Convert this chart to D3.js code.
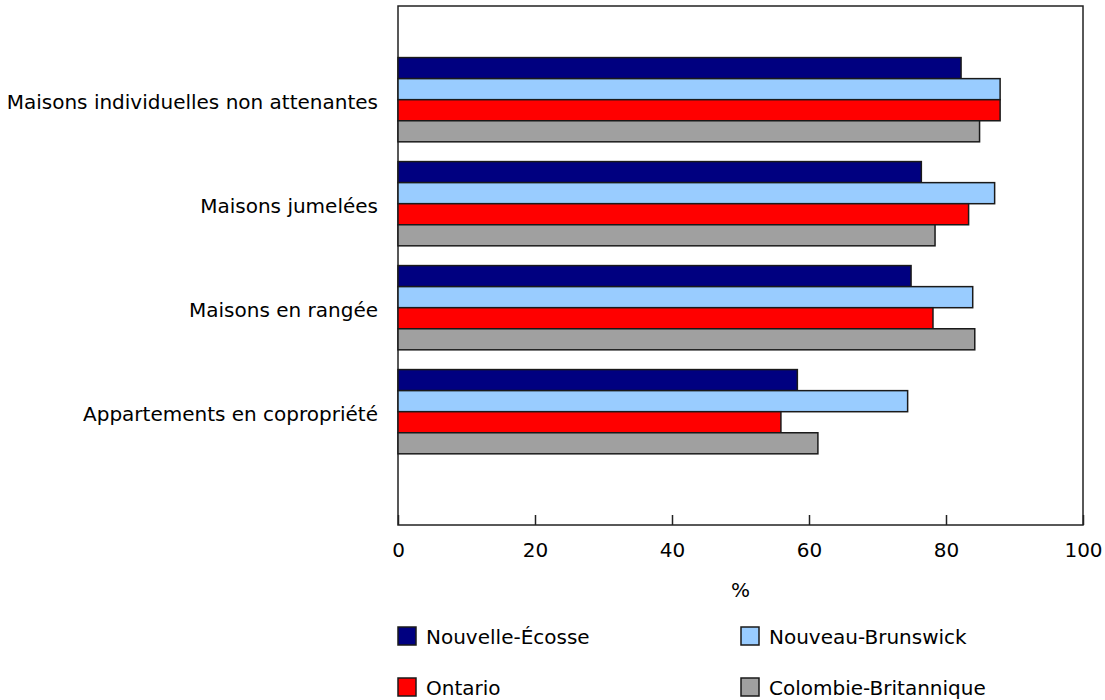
<!DOCTYPE html>
<html>
<head>
<meta charset="utf-8">
<script src="https://cdn.jsdelivr.net/npm/d3@7"></script>
<style>
body { margin: 0; background: #fff; }
text { font-family: "DejaVu Sans", Verdana, sans-serif; fill: #000; }
</style>
</head>
<body>
<svg id="chart" width="1105" height="700"></svg>
<script>
const categories = ["Maisons individuelles non attenantes", "Maisons jumelées", "Maisons en rangée", "Appartements en copropriété"];
const seriesNames = ["Nouvelle-Écosse", "Nouveau-Brunswick", "Ontario", "Colombie-Britannique"];
const seriesColors = ["#000080", "#99ccff", "#ff0000", "#a0a0a0"];
const novaScotia = [82.2, 76.4, 74.9, 58.3];
const newBrunswick = [87.9, 87.1, 83.9, 74.4];
const ontario = [87.9, 83.3, 78.1, 55.9];
const britishColumbia = [84.9, 78.4, 84.2, 61.3];
const xTicks = [0, 20, 40, 60, 80, 100];
const xTitle = "%";

const seriesValues = [novaScotia, newBrunswick, ontario, britishColumbia];

const svg = d3.select("#chart");
const mLeft = 398, mRight = 1083, mTop = 6, mBottom = 525;
const fs = 20;

const x = d3.scaleLinear().domain([0, 100]).range([mLeft, mRight]);
const y = d3.scaleBand().domain(categories).range([47.7, 463.7]).paddingInner(0.19).paddingOuter(0.095);
const ySub = d3.scaleBand().domain(seriesNames).range([0, y.bandwidth()]);

// frame
svg.append("rect")
  .attr("x", mLeft).attr("y", mTop)
  .attr("width", mRight - mLeft).attr("height", mBottom - mTop)
  .attr("fill", "none").attr("stroke", "#222").attr("stroke-width", 1.5);

// bars
const groups = svg.append("g").selectAll("g")
  .data(categories).join("g")
  .attr("transform", d => `translate(0,${y(d)})`);

groups.selectAll("rect")
  .data((c, ci) => seriesNames.map((s, si) => ({ s, si, v: seriesValues[si][ci] })))
  .join("rect")
  .attr("x", x(0))
  .attr("y", d => ySub(d.s))
  .attr("width", d => x(d.v) - x(0))
  .attr("height", ySub.bandwidth())
  .attr("fill", d => seriesColors[d.si])
  .attr("stroke", "#1a1a1a")
  .attr("stroke-width", 1.5);

// category labels
svg.append("g").selectAll("text")
  .data(categories).join("text")
  .attr("x", mLeft - 20)
  .attr("y", d => y(d) + y.bandwidth() / 2 + 2)
  .attr("text-anchor", "end")
  .attr("dominant-baseline", "central")
  .attr("font-size", fs)
  .text(d => d);

// x axis
const xAxis = d3.axisBottom(x).tickValues(xTicks).tickSize(-10).tickPadding(18).tickFormat(d3.format("d"));
const ax = svg.append("g").attr("transform", `translate(0,${mBottom})`).call(xAxis);
ax.select(".domain").remove();
ax.selectAll(".tick line").attr("stroke", "#222").attr("stroke-width", 1.5);
ax.selectAll(".tick text").attr("font-size", fs).attr("font-family", "DejaVu Sans, Verdana, sans-serif").attr("fill", "#000");

svg.append("text")
  .attr("x", x(50)).attr("y", 590)
  .attr("text-anchor", "middle")
  .attr("dominant-baseline", "central")
  .attr("font-size", fs)
  .text(xTitle);

// legend
const legendPos = [[398, 636], [741, 636], [398, 687], [741, 687]];
const lg = svg.append("g").selectAll("g")
  .data(seriesNames).join("g")
  .attr("transform", (d, i) => `translate(${legendPos[i][0]},${legendPos[i][1]})`);
lg.append("rect")
  .attr("x", 0).attr("y", -9).attr("width", 18).attr("height", 18)
  .attr("fill", (d, i) => seriesColors[i])
  .attr("stroke", "#1a1a1a").attr("stroke-width", 1.5);
lg.append("text")
  .attr("x", 28).attr("y", 1)
  .attr("dominant-baseline", "central")
  .attr("font-size", fs)
  .text(d => d);
</script>
</body>
</html>
